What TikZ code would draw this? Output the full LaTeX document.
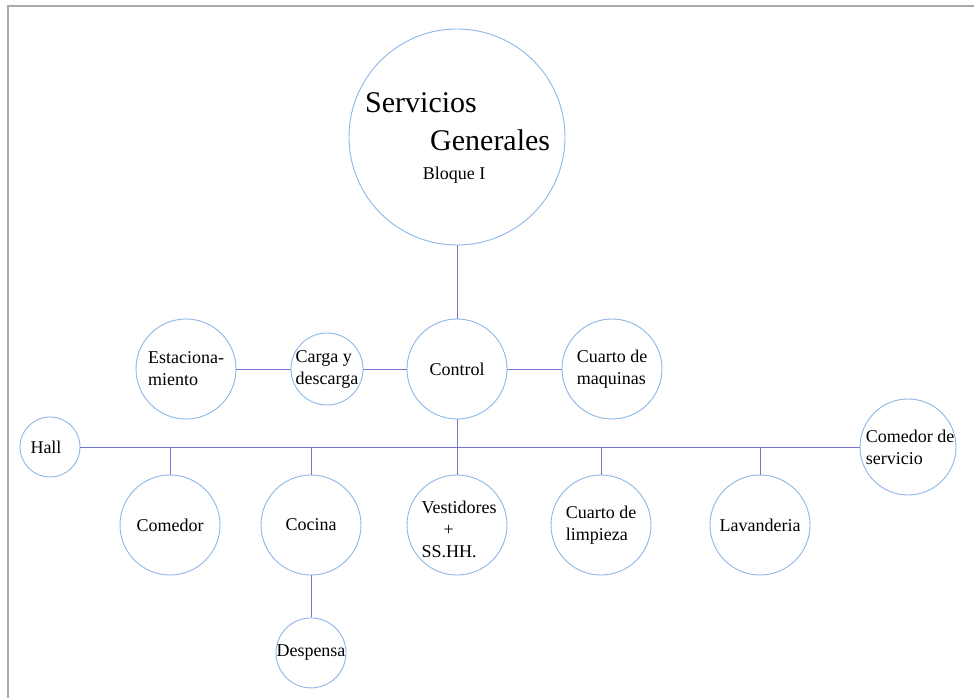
\documentclass[tikz,border=0pt]{standalone}
\usepackage{fontspec}
\setmainfont{Liberation Serif}
\usetikzlibrary{positioning}
\definecolor{circc}{RGB}{141,182,230}
\definecolor{linkc}{RGB}{118,118,208}
\definecolor{framec}{RGB}{170,170,170}

\begin{document}
\begin{tikzpicture}[
  x=1pt, y=-1pt,
  node distance=42pt,
  room/.style={circle, draw=circc, line width=0.9pt, minimum size=#1, inner sep=0pt},
  lbl/.style={align=left, font=\fontsize{18}{22}\selectfont, inner sep=0pt},
  big/.style={font=\fontsize{30}{37}\selectfont, inner sep=0pt},
  wire/.style={draw=linkc, line width=0.9pt}
]
\useasboundingbox (0,0) rectangle (974,698);
\draw[framec, line width=2.5pt] (8,698) -- (8,6) -- (974,6);

\node[room=216pt] (sg) at (457,137) {};
\node[big, anchor=base west] (sgA) at (365,113) {Servicios};
\node[big, anchor=base west] (sgB) at (430,150) {Generales};
\node[lbl, anchor=base] (bloq) at (454,179) {Bloque I};

\node[room=100pt, label={[lbl]center:Control}] (ctrl) at (457,369) {};
\node[room=72pt, label={[lbl]center:Carga y\\descarga}] (carga) at (327,369) {};
\node[room=100pt, label={[lbl]center:Estaciona-\\miento}] (estac) at (186,369) {};
\node[room=100pt, label={[lbl]center:Cuarto de\\maquinas}] (maq) at (612,369) {};

\node[room=60pt, label={[lbl, xshift=-4pt]center:Hall}] (hall) at (50,447) {};
\node[room=96pt, label={[lbl, xshift=2pt]center:Comedor de\\servicio}] (comserv) at (908,447) {};

\node[room=100pt, label={[lbl]center:Comedor}] (comedor) at (170,525) {};
\node[room=100pt, label={[lbl]center:Cocina}] (cocina) at (311,525) {};
\node[room=100pt, label={[lbl, xshift=2pt, yshift=-4pt]center:Vestidores\\\hspace*{22pt}+\\SS.HH.}] (vest) at (457,525) {};
\node[room=100pt, label={[lbl]center:Cuarto de\\limpieza}] (limp) at (601,525) {};
\node[room=100pt, label={[lbl]center:Lavanderia}] (lav) at (760,525) {};
\node[room=70pt, below=of cocina, label={[lbl]center:Despensa}] (desp) {};

\draw[wire] (sg) -- (ctrl);
\draw[wire] (estac) -- (carga);
\draw[wire] (carga) -- (ctrl);
\draw[wire] (ctrl) -- (maq);
\draw[wire] (ctrl) -- (vest);
\draw[wire] (hall) -- (comserv);
\draw[wire] (comedor |- hall) -- (comedor);
\draw[wire] (cocina |- hall) -- (cocina);
\draw[wire] (limp |- hall) -- (limp);
\draw[wire] (lav |- hall) -- (lav);
\draw[wire] (cocina) -- (desp);
\end{tikzpicture}
\end{document}
